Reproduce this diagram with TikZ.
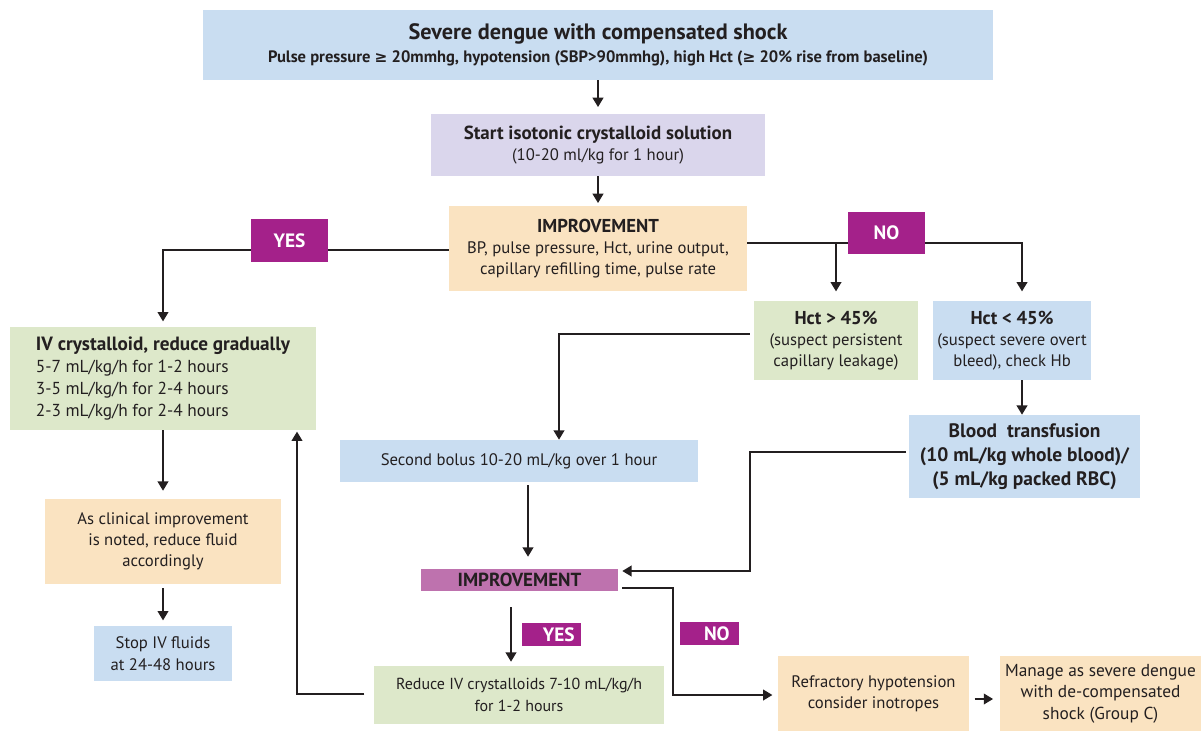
\documentclass[tikz,border=0pt]{standalone}
\usepackage{fontspec}
\setmainfont{PT Sans}
\newfontfamily\dv{DejaVu Sans}
\usetikzlibrary{arrows.meta}
\definecolor{bluebx}{HTML}{C9DDF1}
\definecolor{lavbx}{HTML}{DAD6EC}
\definecolor{peachbx}{HTML}{FAE3C1}
\definecolor{greenbx}{HTML}{DDE8CA}
\definecolor{magbx}{HTML}{A4218A}
\definecolor{mauvebx}{HTML}{BE72AE}
\definecolor{txt}{HTML}{231F20}
\newcommand{\gesym}{{\dv\fontsize{11.5}{12}\selectfont ≥}}
\begin{document}
\begin{tikzpicture}[x=0.75pt,y=-0.75pt,
  font=\fontsize{12.5}{16}\selectfont,
  sz/.style 2 args={minimum width=#1*0.75pt, minimum height=#2*0.75pt},
  box/.style={rectangle, inner sep=0pt, align=center, text=txt},
  lab/.style={rectangle, inner sep=0pt, fill=magbx, text=white, font=\fontsize{14.5}{16}\selectfont\bfseries},
  ln/.style={draw=txt, line width=1.4pt},
  arr/.style={ln, -{Triangle[width=8pt,length=7pt]}}
]
\useasboundingbox (0,0) rectangle (1201,731);

% nodes
\node[box, fill=bluebx, sz={790}{70}] (top) at (598,45)
  {{\fontsize{16.7}{19}\selectfont\bfseries Severe dengue with compensated shock}\\[1pt]
   {\fontsize{12.4}{14}\selectfont\bfseries Pulse pressure \gesym{} 20mmhg, hypotension (SBP>90mmhg), high Hct (\gesym{} 20\% rise from baseline)}};
\node[box, fill=lavbx, sz={334}{62}] (start) at (598,145)
  {{\fontsize{14.2}{17}\selectfont\bfseries Start isotonic crystalloid solution}\\(10-20 ml/kg for 1 hour)};
\node[box, fill=peachbx, sz={298}{85}] (imp1) at (598,248.5)
  {{\fontsize{14}{16}\selectfont\bfseries IMPROVEMENT}\\BP, pulse pressure, Hct, urine output,\\capillary refilling time, pulse rate};
\node[box, fill=greenbx, sz={306}{103}, align=left, font=\fontsize{13}{16.5}\selectfont] (ivc) at (163,378.5)
  {{\fontsize{14.4}{16.5}\selectfont\bfseries IV crystalloid, reduce gradually}\\5-7 mL/kg/h for 1-2 hours\\3-5 mL/kg/h for 2-4 hours\\2-3 mL/kg/h for 2-4 hours};
\node[box, fill=greenbx, sz={164}{79}] (hgt) at (836,340.5)
  {{\fontsize{14}{16}\selectfont\bfseries Hct > 45\%}\\(suspect persistent\\capillary leakage)};
\node[box, fill=bluebx, sz={158}{79}] (hlt) at (1012,340.5)
  {{\fontsize{14}{16}\selectfont\bfseries Hct < 45\%}\\(suspect severe overt\\bleed), check Hb};
\node[box, fill=bluebx, sz={358}{42}] (bolus) at (519,461)
  {Second bolus 10-20 mL/kg over 1 hour};
\node[box, fill=mauvebx, sz={197}{22}, font=\fontsize{14.2}{16}\selectfont\bfseries] (imp2) at (519.5,580)
  {IMPROVEMENT};
\node[box, fill=greenbx, sz={290}{58}, font=\fontsize{12}{16}\selectfont] (reduce) at (519,695)
  {Reduce IV crystalloids 7-10 mL/kg/h\\for 1-2 hours};
\node[box, fill=bluebx, sz={231}{83}, font=\fontsize{14.6}{18}\selectfont\bfseries] (blood) at (1024.5,456.5)
  {Blood~~transfusion\\(10 mL/kg whole blood)/\\(5 mL/kg packed RBC)};
\node[box, fill=peachbx, sz={191}{75}] (refr) at (873.5,693.5)
  {Refractory hypotension\\consider inotropes};
\node[box, fill=peachbx, sz={201}{75}, font=\fontsize{13}{16}\selectfont] (manage) at (1100.5,693.5)
  {Manage as severe dengue\\with de-compensated\\shock (Group C)};
\node[box, fill=peachbx, sz={236}{85}] (clin) at (163,541.5)
  {As clinical improvement\\is noted, reduce fluid\\accordingly};
\node[box, fill=bluebx, sz={138}{55}] (stop) at (163,653.5)
  {Stop IV fluids\\at 24-48 hours};

% coordinates
\coordinate (c1) at (163,250);
\coordinate (c2) at (1022,243);
\coordinate (c3) at (559,334);
\coordinate (c4) at (528,485);
\coordinate (c5) at (750,452);
\coordinate (c6) at (750,571);
\coordinate (c7) at (673,588);
\coordinate (c8) at (673,695);
\coordinate (c9) at (511,607);
\coordinate (c10) at (297,694);
\coordinate (c11) at (0,699);

% connectors
\draw[arr, shorten >=5pt] (top) -- (start);
\draw[arr, shorten >=2pt] (start) -- (imp1);
\draw[arr, shorten >=4pt] (imp1.west |- c1) -- (c1) -- (ivc.north);
\draw[arr, shorten >=7pt] (imp1.east |- c2) -- (c2) -- (c2 |- hlt.north);
\draw[arr, shorten >=7pt] (hgt.north |- c2) -- (hgt.north);
\draw[arr, shorten <=3pt] (hgt.west |- c3) -- (c3) -- (c3 |- bolus.north);
\draw[arr, shorten >=9pt] (c4) -- (c4 |- imp2.north);
\draw[arr, shorten <=2pt, shorten >=3pt] (blood.west |- c5) -- (c5) -- (c6) -- (imp2.east |- c6);
\draw[arr, shorten <=3pt, shorten >=4pt] (imp2.east |- c7) -- (c7) -- (c8) -- (refr.west |- c8);
\draw[arr, shorten >=3pt] (c9) -- (c9 |- reduce.north);
\draw[arr, shorten <=7pt, shorten >=1pt] (reduce.west |- c10) -- (c10) -- (c10 |- ivc.south);
\draw[arr, shorten >=6pt] (ivc.south) -- (clin.north);
\draw[arr, shorten <=3pt, shorten >=4pt] (clin.south) -- (stop.north);
\draw[arr] (c2 |- hlt.south) -- (c2 |- blood.north);
\draw[arr, shorten <=4pt, shorten >=5pt] (refr.east |- c11) -- (manage.west |- c11);

% labels
\node[lab, sz={77}{43}] (yes1) at (289.5,240.5) {YES};
\node[lab, sz={77}{42}] (no1) at (886.5,233) {NO};
\node[lab, sz={59}{23}] (yes2) at (551.5,634.5) {\hspace*{11pt}YES};
\node[lab, sz={59}{23}] (no2) at (709.5,633.5) {\hspace*{11pt}NO};
\end{tikzpicture}
\end{document}
